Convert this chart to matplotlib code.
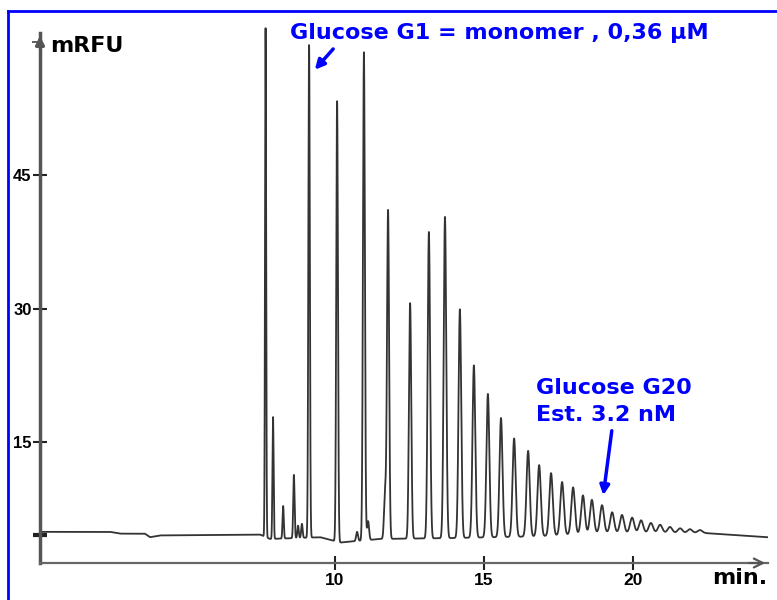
import numpy as np
import matplotlib
matplotlib.use('Agg')
import matplotlib.pyplot as plt
from matplotlib.lines import Line2D

# peak apex positions (min) and apex heights (mRFU)
peak_t = [7.67, 7.92, 8.26, 8.62, 8.76, 8.89, 9.13, 10.07, 10.74, 10.97, 11.11,
          11.68, 11.78, 12.52, 13.15, 13.69, 14.19, 14.66, 15.13, 15.57, 16.01,
          16.48, 16.85, 17.25, 17.62, 17.99, 18.32, 18.62, 18.96, 19.30, 19.63,
          19.97, 20.27, 20.60, 20.91, 21.24, 21.58, 21.91, 22.25]
peak_top = [61.5, 17.8, 7.8, 11.3, 5.6, 5.8, 59.6, 53.3, 4.9, 58.8, 6.1,
            9.3, 41.0, 30.6, 38.6, 40.3, 29.9, 23.6, 20.4, 17.7, 15.4,
            14.0, 12.4, 11.5, 10.5, 9.9, 9.0, 8.5, 7.9, 7.1, 6.8,
            6.5, 6.2, 5.9, 5.7, 5.45, 5.3, 5.2, 5.1]

# baseline level of the trace
base_t = [0.1, 2.45, 2.79, 3.62, 3.79, 4.13, 7.48, 7.82, 9.5, 10.17, 10.5,
          11.51, 13.86, 16.88, 18.9, 22.25, 24.5]
base_v = [4.9, 4.9, 4.7, 4.7, 4.3, 4.5, 4.6, 4.1, 4.3, 3.7, 3.8,
          4.1, 4.2, 4.4, 4.8, 4.8, 4.3]

yticks = [4.5, 15, 30, 45]
ylabels = ['', '15', '30', '45']
xticks = [10, 15, 20]

t = np.linspace(0.1, 24.5, 30000)
signal = np.interp(t, base_t, base_v)
for pt, top in zip(peak_t, peak_top):
    amp = top - np.interp(pt, base_t, base_v)
    sig = 0.018 + 0.004 * (pt - 7.5)
    signal += amp * np.exp(-0.5 * ((t - pt) / sig) ** 2)

fig = plt.figure(figsize=(7.77, 6.0), dpi=100)
ax = fig.add_axes([40 / 777, 37 / 600, 728 / 777, 530 / 600])

ax.plot(t, signal, color='#333333', lw=1.3, clip_on=False)

ax.set_xlim(0.1, 24.53)
ax.set_ylim(1.4, 60.96)

for s in ['top', 'right']:
    ax.spines[s].set_visible(False)
ax.spines['left'].set_linewidth(2.5)
ax.spines['left'].set_color('#555555')
ax.spines['bottom'].set_linewidth(1.6)
ax.spines['bottom'].set_color('#666666')

ax.annotate('', xy=(1.0, 0), xytext=(0.97, 0), xycoords='axes fraction',
            arrowprops=dict(arrowstyle='->', lw=1.6, color='#555555', mutation_scale=16))
ax.annotate('', xy=(0, 1.0), xytext=(0, 0.97), xycoords='axes fraction',
            arrowprops=dict(arrowstyle='-|>', lw=2.5, color='#555555', mutation_scale=12))

ax.set_yticks(yticks)
ax.set_yticklabels(ylabels, fontweight='bold', fontfamily='Liberation Sans')
ax.set_yticks([60], minor=True)
ax.set_xticks(xticks)
ax.set_xticklabels([str(x) for x in xticks], fontweight='bold', fontfamily='Liberation Sans')
ax.tick_params(axis='y', direction='inout', length=10, width=1.5, colors='#222222',
               labelsize=12, pad=1, labelcolor='black')
ax.tick_params(axis='y', which='minor', direction='out', length=6, width=1.2, colors='#444444')
ax.tick_params(axis='x', direction='inout', length=10, width=1.5, colors='#222222',
               labelsize=12.5, pad=2, labelcolor='black')
bt = ax.yaxis.get_major_ticks()[0]
bt.tick1line.set_markeredgewidth(3)
bt.tick1line.set_color('black')

big = dict(fontsize=16, fontweight='bold', family='DejaVu Sans')
ax.text(0.44, 59.5, 'mRFU', color='black', va='center', ha='left', **big)
ax.text(22.65, -0.3, 'min.', color='black', va='center', ha='left', **big)

blue = '#0000ff'
ax.text(8.49, 61.0, 'Glucose G1 = monomer , 0,36 µM', color=blue, va='center', ha='left', **big)
ax.annotate('', xy=(9.26, 56.6), xytext=(10.0, 59.4),
            arrowprops=dict(arrowstyle='-|>', lw=2.5, color=blue, mutation_scale=14))
ax.text(16.74, 21.07, 'Glucose G20', color=blue, va='center', ha='left', **big)
ax.text(16.74, 18.03, 'Est. 3.2 nM', color=blue, va='center', ha='left', **big)
ax.annotate('', xy=(18.99, 8.71), xytext=(19.30, 16.57),
            arrowprops=dict(arrowstyle='-|>', lw=2.5, color=blue, mutation_scale=14))

# blue frame of the figure (left and top edges visible)
fig.add_artist(Line2D([8 / 777, 8 / 777], [0, 1 - 11 / 600], color=blue, lw=2))
fig.add_artist(Line2D([8 / 777, 1], [1 - 11 / 600, 1 - 11 / 600], color=blue, lw=2))

fig.savefig('out.png', dpi=100)
